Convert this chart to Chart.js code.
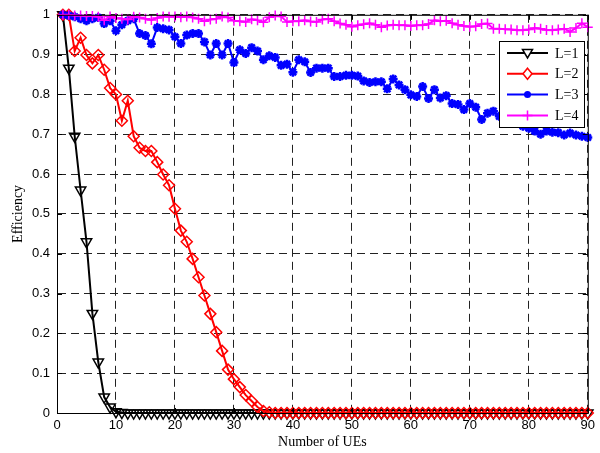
<!DOCTYPE html>
<html>
<head>
<meta charset="utf-8">
<script src="https://cdn.jsdelivr.net/npm/chart.js@4/dist/chart.umd.min.js"></script>
<style>
  html, body { margin: 0; padding: 0; background: #fff; }
  #wrap { width: 600px; height: 453px; }
</style>
</head>
<body>
<div id="wrap"><canvas id="eff" width="600" height="453"></canvas></div>
<script>
// number of UEs on the x axis
const ues = [
  1, 2, 3, 4, 5, 6, 7, 8, 9, 10,
  11, 12, 13, 14, 15, 16, 17, 18, 19, 20,
  21, 22, 23, 24, 25, 26, 27, 28, 29, 30,
  31, 32, 33, 34, 35, 36, 37, 38, 39, 40,
  41, 42, 43, 44, 45, 46, 47, 48, 49, 50,
  51, 52, 53, 54, 55, 56, 57, 58, 59, 60,
  61, 62, 63, 64, 65, 66, 67, 68, 69, 70,
  71, 72, 73, 74, 75, 76, 77, 78, 79, 80,
  81, 82, 83, 84, 85, 86, 87, 88, 89, 90
];

const effL1 = [
  1, 0.866, 0.695, 0.56, 0.43, 0.25, 0.128, 0.04, 0.015, 0.003,
  0.001, 0, 0, 0, 0, 0, 0, 0, 0, 0,
  0, 0, 0, 0, 0, 0, 0, 0, 0, 0,
  0, 0, 0, 0, 0, 0, 0, 0, 0, 0,
  0, 0, 0, 0, 0, 0, 0, 0, 0, 0,
  0, 0, 0, 0, 0, 0, 0, 0, 0, 0,
  0, 0, 0, 0, 0, 0, 0, 0, 0, 0,
  0, 0, 0, 0, 0, 0, 0, 0, 0, 0,
  0, 0, 0, 0, 0, 0, 0, 0, 0, 0
];

const effL2 = [
  1, 1, 0.909, 0.9425, 0.899, 0.878, 0.899, 0.862, 0.816, 0.8,
  0.734, 0.784, 0.695, 0.666, 0.658, 0.658, 0.63, 0.599, 0.572, 0.513,
  0.458, 0.43, 0.387, 0.341, 0.295, 0.249, 0.203, 0.156, 0.109, 0.085,
  0.065, 0.045, 0.03, 0.015, 0.005, 0.002, 0, 0, 0, 0,
  0, 0, 0, 0, 0, 0, 0, 0, 0, 0,
  0, 0, 0, 0, 0, 0, 0, 0, 0, 0,
  0, 0, 0, 0, 0, 0, 0, 0, 0, 0,
  0, 0, 0, 0, 0, 0, 0, 0, 0, 0,
  0, 0, 0, 0, 0, 0, 0, 0, 0, 0
];

const effL3 = [
  1, 0.998, 0.995, 0.99, 0.985, 0.99, 0.993, 0.978, 0.985, 0.96,
  0.975, 0.985, 0.99, 0.953, 0.948, 0.927, 0.968, 0.965, 0.962, 0.945,
  0.928, 0.949, 0.953, 0.953, 0.932, 0.899, 0.928, 0.899, 0.928, 0.88,
  0.912, 0.903, 0.9175, 0.909, 0.887, 0.897, 0.893, 0.873, 0.876, 0.856,
  0.887, 0.882, 0.855, 0.866, 0.866, 0.866, 0.845, 0.845, 0.848, 0.848,
  0.846, 0.834, 0.83, 0.832, 0.832, 0.814, 0.839, 0.824, 0.812, 0.799,
  0.795, 0.82, 0.79, 0.812, 0.791, 0.797, 0.777, 0.775, 0.762, 0.777,
  0.768, 0.737, 0.753, 0.758, 0.745, 0.74, 0.735, 0.73, 0.72, 0.715,
  0.708, 0.7, 0.708, 0.705, 0.704, 0.698, 0.703, 0.698, 0.695, 0.692
];

const effL4 = [
  1, 1, 0.998, 0.998, 0.997, 0.997, 0.995, 0.986, 0.996, 0.992,
  0.99, 0.988, 0.995, 0.993, 0.99, 0.987, 0.992, 0.996, 0.995, 0.996,
  0.994, 0.996, 0.993, 0.99, 0.984, 0.988, 0.99, 0.996, 0.993, 0.985,
  0.984, 0.982, 0.989, 0.986, 0.981, 0.994, 0.998, 0.996, 0.982, 0.984,
  0.984, 0.986, 0.983, 0.982, 0.988, 0.99, 0.984, 0.978, 0.975, 0.97,
  0.974, 0.976, 0.979, 0.975, 0.969, 0.973, 0.975, 0.974, 0.974, 0.972,
  0.974, 0.974, 0.977, 0.986, 0.984, 0.985, 0.979, 0.975, 0.972, 0.97,
  0.971, 0.977, 0.978, 0.965, 0.965, 0.964, 0.963, 0.961, 0.961, 0.963,
  0.967, 0.965, 0.962, 0.961, 0.963, 0.965, 0.957, 0.967, 0.979, 0.969
];

const seriesNames = ['L=1', 'L=2', 'L=3', 'L=4'];
const xTicks = [0, 10, 20, 30, 40, 50, 60, 70, 80, 90];

const toPoints = (vals) => vals.map((v, i) => ({ x: ues[i], y: v }));

const makeSet = (label, vals, color, style, radius, order, extra) => Object.assign({
  label: label,
  data: toPoints(vals),
  borderColor: color,
  backgroundColor: 'rgba(0,0,0,0)',
  borderWidth: 2,
  pointStyle: style,
  pointRadius: radius,
  pointBorderColor: color,
  pointBackgroundColor: 'rgba(0,0,0,0)',
  pointBorderWidth: 1.5,
  tension: 0,
  clip: false,
  order: order
}, extra || {});

// draws the axes box with inward ticks, plus the MATLAB-like legend
const boxAndLegend = {
  id: 'boxAndLegend',
  afterDatasetsDraw(chart) {
    const { ctx, chartArea: a, scales } = chart;
    ctx.save();
    ctx.strokeStyle = '#000';
    ctx.lineWidth = 1;
    ctx.setLineDash([]);
    ctx.strokeRect(a.left + 0.5, a.top + 0.5, a.right - a.left, a.bottom - a.top);
    ctx.beginPath();
    scales.x.ticks.forEach(t => {
      const px = Math.round(scales.x.getPixelForValue(t.value)) + 0.5;
      ctx.moveTo(px, a.bottom); ctx.lineTo(px, a.bottom - 5);
      ctx.moveTo(px, a.top); ctx.lineTo(px, a.top + 5);
    });
    scales.y.ticks.forEach(t => {
      const py = Math.round(scales.y.getPixelForValue(t.value)) + 0.5;
      ctx.moveTo(a.left, py); ctx.lineTo(a.left + 5, py);
      ctx.moveTo(a.right, py); ctx.lineTo(a.right - 5, py);
    });
    ctx.stroke();

    // legend
    const lx = 499, ly = 41, lw = 85, lh = 86;
    ctx.fillStyle = '#fff';
    ctx.fillRect(lx, ly, lw, lh);
    ctx.strokeRect(lx + 0.5, ly + 0.5, lw, lh);
    ctx.font = '14px "Liberation Serif", "Times New Roman", serif';
    ctx.textBaseline = 'middle';
    chart.data.datasets.forEach((ds, i) => {
      const y = ly + 12 + i * 20.8;
      ctx.strokeStyle = ds.borderColor;
      ctx.lineWidth = 2;
      ctx.beginPath();
      ctx.moveTo(507, y); ctx.lineTo(548, y);
      ctx.stroke();
      const cx = 527.5;
      ctx.lineWidth = 1.5;
      ctx.beginPath();
      if (ds.pointStyle === 'triangle') {
        ctx.fillStyle = '#fff';
        ctx.moveTo(cx - 5, y - 3.5); ctx.lineTo(cx + 5, y - 3.5); ctx.lineTo(cx, y + 5); ctx.closePath();
        ctx.fill(); ctx.stroke();
      } else if (ds.pointStyle === 'rectRot') {
        ctx.fillStyle = '#fff';
        ctx.moveTo(cx, y - 5.5); ctx.lineTo(cx + 4.5, y); ctx.lineTo(cx, y + 5.5); ctx.lineTo(cx - 4.5, y); ctx.closePath();
        ctx.fill(); ctx.stroke();
      } else if (ds.pointStyle === 'star') {
        ctx.fillStyle = ds.borderColor;
        ctx.arc(cx, y, 3.5, 0, Math.PI * 2);
        ctx.fill();
      } else {
        ctx.moveTo(cx - 5, y); ctx.lineTo(cx + 5, y);
        ctx.moveTo(cx, y - 5); ctx.lineTo(cx, y + 5);
        ctx.stroke();
      }
      ctx.fillStyle = '#000';
      ctx.textAlign = 'left';
      ctx.fillText(ds.label, 555, y + 1);
    });
    ctx.restore();
  }
};

new Chart(document.getElementById('eff'), {
  type: 'line',
  data: {
    datasets: [
      makeSet(seriesNames[0], effL1, '#000000', 'triangle', 6, 4, { pointRotation: 180 }),
      makeSet(seriesNames[1], effL2, '#ff0000', 'rectRot', 5.5, 3),
      makeSet(seriesNames[2], effL3, '#0000ff', 'star', 4.5, 2, { pointBorderWidth: 2.5 }),
      makeSet(seriesNames[3], effL4, '#ff00ff', 'cross', 5, 1)
    ]
  },
  options: {
    responsive: false,
    animation: false,
    devicePixelRatio: 1,
    layout: { padding: { top: 13, right: 9, bottom: 0, left: 0 } },
    plugins: {
      legend: { display: false },
      tooltip: { enabled: false }
    },
    scales: {
      x: {
        type: 'linear',
        min: 0,
        max: 90,
        afterFit: (s) => { s.height = 40; },
        afterBuildTicks: (s) => { s.ticks = xTicks.map(v => ({ value: v })); },
        grid: { color: '#222', lineWidth: 1, drawTicks: false },
        border: { display: true, color: '#000', width: 1, dash: [8, 5] },
        ticks: {
          color: '#000',
          padding: 5,
          maxRotation: 0,
          font: { family: '"Liberation Sans", Arial, sans-serif', size: 13 }
        },
        title: {
          display: true,
          text: 'Number of UEs',
          color: '#000',
          padding: { top: 0, bottom: 2 },
          font: { family: '"Liberation Serif", "Times New Roman", serif', size: 14 }
        }
      },
      y: {
        min: 0,
        max: 1,
        afterFit: (s) => { s.width = 57; },
        grid: { color: '#222', lineWidth: 1, drawTicks: false },
        border: { display: true, color: '#000', width: 1, dash: [8, 5] },
        ticks: {
          stepSize: 0.1,
          color: '#000',
          padding: 7,
          font: { family: '"Liberation Sans", Arial, sans-serif', size: 13 },
          callback: (v) => String(Number(v.toFixed(1)))
        },
        title: {
          display: true,
          text: 'Efficiency',
          color: '#000',
          padding: { top: 10, bottom: 0 },
          font: { family: '"Liberation Serif", "Times New Roman", serif', size: 14 }
        }
      }
    }
  },
  plugins: [boxAndLegend]
});
</script>
</body>
</html>
